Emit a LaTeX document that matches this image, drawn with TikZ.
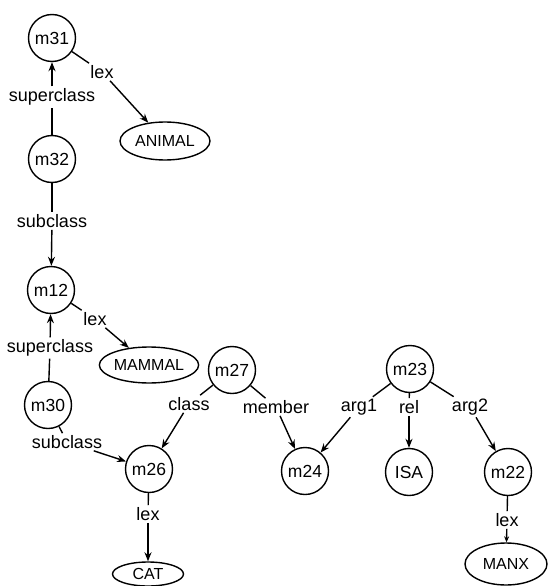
\documentclass[tikz,border=0pt]{standalone}
\usepackage{fontspec}
\setmainfont{Liberation Sans}
\usetikzlibrary{shapes.geometric,arrows.meta}

\begin{document}
\begin{tikzpicture}[x=1pt,y=-1pt,line width=1.4pt,
    >={Stealth[length=9pt,width=7pt]},
    mol/.style={draw,circle,line width=1.4pt,minimum size=47pt,inner sep=0pt,font=\fontsize{17.5}{20}\selectfont},
    base/.style={draw,ellipse,line width=1.4pt,inner sep=0pt,font=\fontsize{16}{18}\selectfont},
    arc/.style={inner sep=1.5pt,font=\fontsize{18}{20}\selectfont}]
    \useasboundingbox (0,0) rectangle (548,586);

    \node[mol] (m31) at (52,38) {m31};
    \node[mol] (m32) at (52,159) {m32};
    \node[mol] (m12) at (51,290) {m12};
    \node[mol] (m30) at (48,405) {m30};
    \node[mol] (m26) at (149,469) {m26};
    \node[mol] (m27) at (232,370) {m27};
    \node[mol] (m24) at (305,471) {m24};
    \node[mol] (m23) at (410,369) {m23};
    \node[mol] (isa) at (409,472) {ISA};
    \node[mol] (m22) at (508,472) {m22};

    \node[base,minimum width=90pt,minimum height=38pt] (animal) at (165,141) {ANIMAL};
    \node[base,minimum width=88pt,minimum height=36pt] (mammal) at (149,365) {MAMMAL};
    \node[base,minimum width=71pt,minimum height=24pt] (cat) at (148,574) {CAT};
    \node[base,minimum width=82pt,minimum height=42pt] (manx) at (506,564) {MANX};

    \node[arc] (lex1) at (102,72) {lex};
    \node[arc] (sup1) at (52,97) {superclass};
    \node[arc] (sub1) at (52,221) {subclass};
    \node[arc] (lex2) at (95,319) {lex};
    \node[arc] (sup2) at (50,348) {superclass};
    \node[arc] (sub2) at (67,442) {subclass};
    \node[arc] (cls) at (189,404) {class};
    \node[arc] (mem) at (276,407) {member};
    \node[arc] (arga) at (359,407) {arg1};
    \node[arc] (rel) at (409,407) {rel};
    \node[arc] (argb) at (470,407) {arg2};
    \node[arc] (lex3) at (148,514) {lex};
    \node[arc] (lex4) at (507,520) {lex};

    \draw (m31) -- (lex1);
    \draw[->] (lex1) -- (animal);
    \draw (m32) -- (sup1);
    \draw[->] (sup1) -- (m31);
    \draw (m32) -- (sub1);
    \draw[->] (sub1) -- (m12);
    \draw (m12) -- (lex2);
    \draw[->] (lex2) -- (mammal);
    \draw (m30) -- (sup2);
    \draw[->] (sup2) -- (m12);
    \draw (m30) -- (sub2);
    \draw[->] (sub2) -- (m26);
    \draw (m27) -- (cls);
    \draw[->] (cls) -- (m26);
    \draw (m27) -- (mem);
    \draw[->] (mem) -- (m24);
    \draw (m23) -- (arga);
    \draw[->] (arga) -- (m24);
    \draw (m23) -- (rel);
    \draw[->] (rel) -- (isa);
    \draw (m23) -- (argb);
    \draw[->] (argb) -- (m22);
    \draw (m26) -- (lex3);
    \draw[->] (lex3) -- (cat);
    \draw (m22) -- (lex4);
    \draw[->,>={Stealth[length=6pt,width=5pt]}] (lex4) -- (manx);
\end{tikzpicture}
\end{document}
